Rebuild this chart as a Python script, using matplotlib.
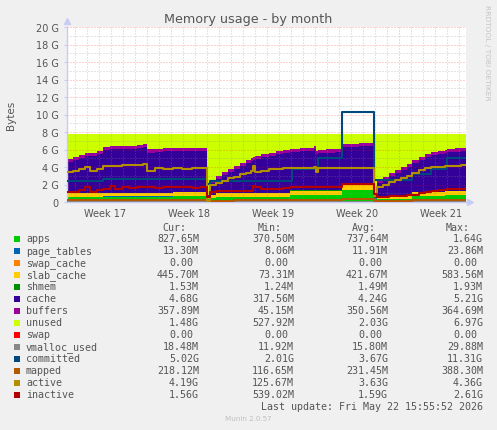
import numpy as np
import matplotlib.pyplot as plt
from matplotlib.patches import Rectangle

# time in days from the left edge of the graph (33.25 days shown)
T = [0.0, 0.5, 1.0, 1.5, 1.9, 2.5, 3.0, 3.6, 4.0, 4.6, 5.2, 5.8, 6.3,
     6.67, 7.3, 8.0, 8.8, 9.6, 10.4, 11.1, 11.7, 11.9, 12.4, 12.9, 13.4, 13.9,
     14.4, 14.9, 15.3, 15.5, 15.7, 16.2, 16.8, 17.4, 18.0, 18.6, 18.75, 19.4, 20.0,
     20.6, 20.75, 20.92, 21.6, 22.3, 22.9, 23.6, 24.3, 25.0, 25.62, 25.8, 26.3, 26.8,
     27.3, 27.8, 28.3, 28.75, 29.3, 29.8, 30.3, 30.9, 31.5, 31.7, 32.3, 32.8, 33.25]

# values in G
apps = [0.60, 0.60, 0.60, 0.61, 0.61, 0.61, 0.62, 0.62, 0.62, 0.62, 0.62, 0.62, 0.62,
        0.62, 0.62, 0.62, 0.63, 0.63, 0.63, 0.63, 0.37, 0.50, 0.54, 0.54, 0.54, 0.54,
        0.54, 0.54, 0.54, 0.54, 0.54, 0.54, 0.54, 0.54, 0.54, 0.83, 0.83, 0.83, 0.83,
        0.83, 0.83, 0.83, 0.83, 0.83, 1.35, 1.38, 1.40, 1.40, 0.40, 0.38, 0.38, 0.38,
        0.38, 0.38, 0.38, 0.72, 0.72, 0.72, 0.72, 0.72, 0.80, 0.80, 0.81, 0.82, 0.83]
page_tables = [0.013] * len(T)
swap_cache = [0.0] * len(T)
slab_cache = [0.42, 0.42, 0.43, 0.43, 0.43, 0.43, 0.44, 0.44, 0.44, 0.44, 0.44, 0.45, 0.45,
              0.45, 0.45, 0.45, 0.45, 0.45, 0.45, 0.45, 0.07, 0.30, 0.45, 0.50, 0.52, 0.52,
              0.53, 0.53, 0.53, 0.53, 0.53, 0.53, 0.53, 0.53, 0.53, 0.47, 0.47, 0.47, 0.47,
              0.47, 0.47, 0.47, 0.47, 0.47, 0.55, 0.56, 0.57, 0.57, 0.10, 0.33, 0.34, 0.35,
              0.35, 0.35, 0.35, 0.38, 0.38, 0.38, 0.38, 0.38, 0.45, 0.45, 0.45, 0.45, 0.45]
shmem = [0.0015] * len(T)
cache = [3.57, 3.77, 4.00, 4.15, 4.25, 4.40, 4.88, 4.93, 4.96, 4.98, 5.03, 5.07, 5.17,
         4.57, 4.67, 4.69, 4.71, 4.74, 4.75, 4.77, 0.31, 1.31, 1.61, 2.01, 2.38, 2.73,
         3.07, 3.37, 3.62, 3.72, 3.82, 4.02, 4.22, 4.37, 4.52, 4.39, 4.42, 4.49, 4.56,
         4.69, 4.19, 4.24, 4.34, 4.39, 4.38, 4.37, 4.36, 4.36, 0.39, 1.48, 1.84, 2.22,
         2.56, 2.91, 3.26, 3.29, 3.64, 3.99, 4.24, 4.39, 4.33, 4.43, 4.49, 4.54, 4.68]
buffers = [0.35, 0.35, 0.35, 0.35, 0.35, 0.35, 0.35, 0.35, 0.35, 0.35, 0.35, 0.35, 0.35,
           0.35, 0.35, 0.35, 0.35, 0.35, 0.36, 0.36, 0.045, 0.33, 0.34, 0.34, 0.35, 0.35,
           0.35, 0.35, 0.35, 0.35, 0.35, 0.35, 0.35, 0.35, 0.35, 0.35, 0.35, 0.35, 0.35,
           0.35, 0.35, 0.35, 0.35, 0.35, 0.36, 0.36, 0.36, 0.36, 0.05, 0.30, 0.33, 0.34,
           0.35, 0.35, 0.35, 0.35, 0.35, 0.35, 0.35, 0.35, 0.36, 0.36, 0.36, 0.36, 0.36]
unused = [2.85, 2.65, 2.40, 2.25, 2.15, 2.00, 1.50, 1.45, 1.42, 1.40, 1.35, 1.30, 1.20,
          1.80, 1.70, 1.68, 1.65, 1.62, 1.60, 1.58, 6.97, 5.35, 4.85, 4.40, 4.00, 3.65,
          3.30, 3.00, 2.75, 2.65, 2.55, 2.35, 2.15, 2.00, 1.85, 1.75, 1.72, 1.65, 1.58,
          1.45, 1.95, 1.90, 1.80, 1.75, 1.15, 1.12, 1.10, 1.10, 6.85, 5.30, 4.90, 4.50,
          4.15, 3.80, 3.45, 3.05, 2.70, 2.35, 2.10, 1.95, 1.85, 1.75, 1.68, 1.62, 1.48]
swap = [0.0] * len(T)

vmalloc_used = [0.016] * len(T)
committed = [2.43, 2.43, 2.43, 2.43, 2.43, 2.43, 2.60, 2.60, 2.60, 2.60, 2.60, 2.60, 2.60,
             2.60, 2.60, 2.60, 2.60, 2.60, 2.60, 2.60, 2.01, 2.43, 2.43, 2.43, 2.43, 2.43,
             2.43, 2.43, 2.43, 2.43, 2.43, 2.43, 2.43, 2.43, 2.43, 2.43, 3.80, 3.80, 3.80,
             3.80, 3.80, 5.05, 5.05, 5.05, 10.30, 10.30, 10.30, 10.30, 2.50, 2.50, 2.50, 2.50,
             2.50, 2.50, 2.50, 3.20, 3.20, 3.20, 3.80, 3.80, 3.80, 5.02, 5.02, 5.02, 5.02]
mapped = [0.18, 0.18, 0.19, 0.19, 0.19, 0.19, 0.20, 0.20, 0.20, 0.20, 0.20, 0.20, 0.20,
          0.20, 0.20, 0.20, 0.21, 0.21, 0.21, 0.21, 0.12, 0.15, 0.16, 0.17, 0.17, 0.18,
          0.18, 0.18, 0.19, 0.19, 0.19, 0.19, 0.19, 0.20, 0.20, 0.22, 0.22, 0.22, 0.22,
          0.22, 0.22, 0.22, 0.22, 0.22, 0.35, 0.36, 0.37, 0.37, 0.13, 0.15, 0.15, 0.16,
          0.16, 0.17, 0.17, 0.19, 0.19, 0.20, 0.20, 0.21, 0.21, 0.21, 0.22, 0.22, 0.22]
active = [3.40, 3.60, 3.77, 3.96, 3.58, 3.77, 4.15, 4.10, 4.15, 4.20, 4.22, 4.28, 4.34,
          3.58, 3.85, 3.80, 3.88, 3.82, 3.86, 3.85, 0.13, 1.90, 2.20, 2.45, 2.70, 2.90,
          3.15, 3.35, 3.55, 4.10, 3.40, 3.60, 3.75, 3.80, 3.85, 3.90, 3.90, 3.88, 3.92,
          3.95, 3.40, 3.85, 3.88, 3.90, 3.90, 3.85, 3.88, 3.86, 0.72, 1.68, 1.95, 2.25,
          2.50, 2.75, 3.00, 3.30, 3.65, 3.90, 4.05, 4.05, 4.10, 4.10, 4.15, 4.18, 4.19]
inactive = [1.18, 1.20, 1.41, 1.70, 1.20, 1.41, 1.50, 1.78, 1.50, 1.68, 1.62, 1.70, 1.66,
            1.70, 1.62, 1.72, 1.66, 1.75, 1.64, 1.70, 0.54, 1.10, 1.30, 1.30, 1.30, 1.30,
            1.30, 1.30, 1.30, 1.85, 1.75, 1.50, 1.52, 1.50, 1.55, 1.68, 1.68, 1.70, 1.68,
            1.66, 1.70, 1.70, 1.68, 1.70, 2.05, 2.05, 2.08, 2.06, 0.90, 0.55, 0.58, 0.65,
            0.70, 0.72, 0.75, 0.85, 1.05, 1.15, 1.25, 1.35, 1.42, 1.45, 1.50, 1.54, 1.56]

names = ['apps', 'page_tables', 'swap_cache', 'slab_cache', 'shmem', 'cache', 'buffers',
         'unused', 'swap', 'vmalloc_used', 'committed', 'mapped', 'active', 'inactive']
colors = ['#00CC00', '#0066B3', '#FF8000', '#FFCC00', '#008F00', '#330099', '#990099',
          '#CCFF00', '#FF0000', '#888888', '#00487D', '#B35A00', '#B38F00', '#B30000']
cur = ['827.65M', '13.30M', '0.00', '445.70M', '1.53M', '4.68G', '357.89M', '1.48G',
       '0.00', '18.48M', '5.02G', '218.12M', '4.19G', '1.56G']
mins = ['370.50M', '8.06M', '0.00', '73.31M', '1.24M', '317.56M', '45.15M', '527.92M',
        '0.00', '11.92M', '2.01G', '116.65M', '125.67M', '539.02M']
avgs = ['737.64M', '11.91M', '0.00', '421.67M', '1.49M', '4.24G', '350.56M', '2.03G',
        '0.00', '15.80M', '3.67G', '231.45M', '3.63G', '1.59G']
maxs = ['1.64G', '23.86M', '0.00', '583.56M', '1.93M', '5.21G', '364.69M', '6.97G',
        '0.00', '29.88M', '11.31G', '388.30M', '4.36G', '2.61G']

week_pos = [3.17, 10.17, 17.17, 24.17, 31.17]
week_labels = ['Week 17', 'Week 18', 'Week 19', 'Week 20', 'Week 21']

W, H = 497, 431
txt = '#555555'
fig = plt.figure(figsize=(W / 100, H / 100), dpi=100, facecolor='#F0F0F0')
ax = fig.add_axes([67 / W, 1 - 203 / H, 399 / W, 175 / H])
ax.set_xlim(0, 33.25)
ax.set_ylim(0, 20)

# stacked areas
ax.stackplot(T, apps, page_tables, swap_cache, slab_cache, shmem, cache, buffers,
             unused, swap, colors=colors[:9], step='post', lw=0, zorder=1)

# grid on top of the areas
for d in np.arange(0.67, 33.25, 1.0):
    major = abs((d - 6.67) % 7) < 0.01
    ax.axvline(d, color=(1, 0, 0, 0.35) if major else (0.55, 0.55, 0.55, 0.45),
               lw=0.72, ls=(0, (1, 2)), zorder=2)
for g in range(1, 21):
    ax.axhline(g, color=(1, 0, 0, 0.35) if g % 2 == 0 else (0.55, 0.55, 0.55, 0.45),
               lw=0.72, ls=(0, (1, 2)), zorder=2)

# lines
for vals, c in zip([vmalloc_used, committed, mapped, active, inactive], colors[9:]):
    ax.step(T, vals, where='post', color=c, lw=1.5, zorder=3)

for s in ['top', 'right']:
    ax.spines[s].set_visible(False)
for s in ['left', 'bottom']:
    ax.spines[s].set_color('#C8CCF4')
    ax.spines[s].set_linewidth(1.0)
ax.plot([0], [1.035], marker='^', ms=5, color='#C8CCF4', transform=ax.transAxes, clip_on=False)
ax.plot([1.01], [0], marker='>', ms=5, color='#C8CCF4', transform=ax.transAxes, clip_on=False)

ax.set_yticks(range(0, 21, 2))
ax.set_yticklabels(['0'] + [f'{g} G' for g in range(2, 21, 2)])
ax.set_xticks(week_pos)
ax.set_xticklabels(week_labels)
ax.tick_params(axis='y', length=2, color='#C8CCF4', pad=4, labelsize=7, labelcolor=txt)
ax.tick_params(axis='x', length=0, pad=4, labelsize=7, labelcolor=txt)

fig.text(248 / W, 1 - 19 / H, 'Memory usage - by month', ha='center', va='center',
         fontsize=9.2, color=txt)
fig.text(11 / W, 1 - 115 / H, 'Bytes', rotation=90, ha='center', va='center',
         fontsize=7.5, color=txt)
fig.text(487 / W, 1 - 53 / H, 'RRDTOOL / TOBI OETIKER', rotation=270, ha='center',
         va='center', fontsize=5.4, color='#C4C4C4')

# legend
mono = dict(family='DejaVu Sans Mono', fontsize=7.2, color=txt)
col_right = [199, 294, 388, 483]
for hx, h in zip([186, 282, 376, 470], ['Cur:', 'Min:', 'Avg:', 'Max:']):
    fig.text(hx / W, 1 - 231 / H, h, ha='right', va='baseline', **mono)
for i, name in enumerate(names):
    y = 240 + 12 * i
    fig.add_artist(Rectangle((14 / W, 1 - (y + 3) / H), 6 / W, 6 / H,
                             transform=fig.transFigure, color=colors[i], lw=0))
    fig.text(26 / W, 1 - (y + 2.5) / H, name, ha='left', va='baseline', **mono)
    for xr, v in zip(col_right, [cur[i], mins[i], avgs[i], maxs[i]]):
        shift = 6 if v[-1].isdigit() else 0
        fig.text((xr - shift) / W, 1 - (y + 2.5) / H, v, ha='right', va='baseline', **mono)
fig.text(483 / W, 1 - 410.5 / H, 'Last update: Fri May 22 15:55:52 2026', ha='right',
         va='baseline', **mono)
fig.text(248 / W, 1 - 419.5 / H, 'Munin 2.0.57', ha='center', va='center',
         fontsize=5.1, color='#C0C0C0')

fig.savefig('out.png', dpi=100, facecolor=fig.get_facecolor())
